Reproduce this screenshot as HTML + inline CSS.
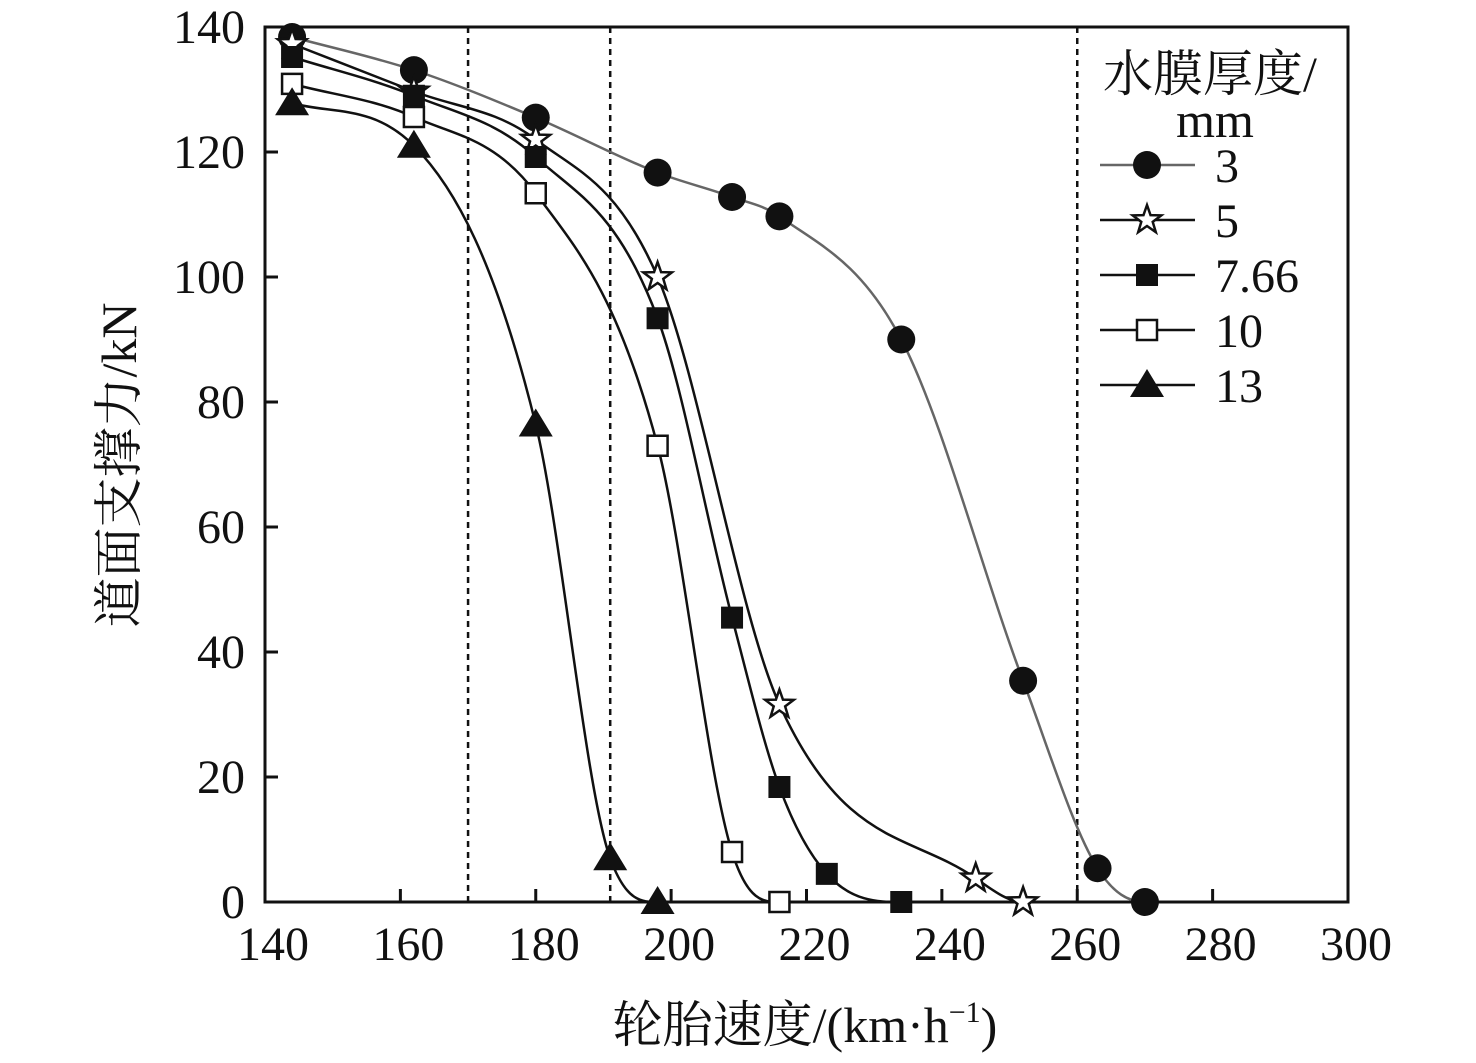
<!DOCTYPE html>
<html><head><meta charset="utf-8"><style>
body{margin:0;background:#fff;width:1476px;height:1058px;overflow:hidden}
svg text{font-family:"Liberation Serif","Noto Serif CJK SC",serif;fill:#111}
</style></head><body>
<svg id="c" width="1476" height="1058" viewBox="0 0 1476 1058"></svg>
<script>
const xs3=[144,162,180,198,209,216,234,252,263,270];
const ys3=[138.4,133.1,125.5,116.7,112.8,109.7,90,35.4,5.4,0];
const xs5=[144,162,180,198,216,245,252];
const ys5=[137.3,129.7,122,100,31.6,3.8,0];
const xs766=[144,162,180,198,209,216,223,234];
const ys766=[135.2,129,119.2,93.4,45.5,18.4,4.5,0];
const xs10=[144,162,180,198,209,216];
const ys10=[130.9,125.6,113.4,73,8,0];
const xs13=[144,162,180,191,198];
const ys13=[127.8,121,76.4,7,0];
const xTicks=[140,160,180,200,220,240,260,280,300];
const yTicks=[0,20,40,60,80,100,120,140];
const dashX=[170,191,260];
const labels=["3","5","7.66","10","13"];
const NS="http://www.w3.org/2000/svg";
const svg=document.getElementById('c');
const L=265,R=1348,T=27,B=902;
const X=v=>L+(v-140)/160*(R-L);
const Y=v=>B-v/140*(B-T);
function el(t,a,p){const e=document.createElementNS(NS,t);for(const k in a)e.setAttribute(k,a[k]);(p||svg).appendChild(e);return e;}
dashX.forEach(d=>{const e=el('line',{x1:X(d),x2:X(d),y1:T,y2:B,stroke:'#111','stroke-width':2.5,'stroke-dasharray':'6,5'});

});
const ax=el('rect',{x:L,y:T,width:R-L,height:B-T,fill:'none',stroke:'#111','stroke-width':3});


xTicks.forEach(t=>{el('line',{x1:X(t),x2:X(t),y1:B,y2:B-13,stroke:'#111','stroke-width':3});
const tx=el('text',{x:X(t)+8,y:B+58,'font-size':48,'text-anchor':'middle'});tx.textContent=t;

});
yTicks.forEach(t=>{el('line',{x1:L,x2:L+13,y1:Y(t),y2:Y(t),stroke:'#111','stroke-width':3});
const tx=el('text',{x:L-20,y:Y(t)+16,'font-size':48,'text-anchor':'end'});tx.textContent=t;

});
const xt=el('text',{x:805,y:1042,'font-size':50,'text-anchor':'middle'});
xt.innerHTML='轮胎速度/(km·h<tspan font-size="30" dy="-20">−1</tspan><tspan dy="20">)</tspan>';


const yt=el('text',{x:0,y:0,'font-size':50,'text-anchor':'middle',transform:'translate(136,465) rotate(-90)'});
yt.textContent='道面支撑力/kN';


function mono(xa,ya){const n=xa.length,d=[],m=new Array(n);
for(let i=0;i<n-1;i++)d.push((ya[i+1]-ya[i])/(xa[i+1]-xa[i]));
m[0]=d[0];m[n-1]=0;
for(let i=1;i<n-1;i++){m[i]=d[i-1]*d[i]<=0?0:(d[i-1]+d[i])/2;}
for(let i=0;i<n-1;i++){if(d[i]===0){m[i]=m[i+1]=0;continue;}const a=m[i]/d[i],b=m[i+1]/d[i],s=a*a+b*b;if(s>9){const t=3/Math.sqrt(s);m[i]=t*a*d[i];m[i+1]=t*b*d[i];}}
let p='M'+X(xa[0])+','+Y(ya[0]);
for(let i=0;i<n-1;i++){const h=xa[i+1]-xa[i];p+=' C'+X(xa[i]+h/3)+','+Y(ya[i]+m[i]*h/3)+' '+X(xa[i+1]-h/3)+','+Y(ya[i+1]-m[i+1]*h/3)+' '+X(xa[i+1])+','+Y(ya[i+1]);}
return p;}
function marker(k,cx,cy,g){
if(k===0)return el('circle',{cx,cy,r:14,fill:'#111'},g);
if(k===1){let p='';for(let i=0;i<10;i++){const r=i%2?6:15,a=-Math.PI/2+i*Math.PI/5;p+=(i?'L':'M')+(cx+r*Math.cos(a))+','+(cy+r*Math.sin(a));}return el('path',{d:p+'Z',fill:'#fff',stroke:'#111','stroke-width':2.5},g);}
if(k===2)return el('rect',{x:cx-11,y:cy-11,width:22,height:22,fill:'#111'},g);
if(k===3)return el('rect',{x:cx-10,y:cy-10,width:20,height:20,fill:'#fff',stroke:'#111','stroke-width':2.5},g);
return el('path',{d:`M${cx},${cy-16}L${cx+17},${cy+12}L${cx-17},${cy+12}Z`,fill:'#111'},g);}
const series=[[xs3,ys3],[xs5,ys5],[xs766,ys766],[xs10,ys10],[xs13,ys13]];
const clip=el('clipPath',{id:'cp'});el('rect',{x:L,y:T-20,width:R-L,height:B-T+20},clip);
series.forEach((s,k)=>{const g=el('g',{});


el('path',{d:mono(s[0],s[1]),fill:'none',stroke:k===0?'#666':'#111','stroke-width':2.5,'clip-path':'url(#cp)'},g);
s[0].forEach((x,i)=>marker(k,X(x),Y(s[1][i]),g));});
const lg=el('g',{});


const l1=el('text',{x:1210,y:91,'font-size':50,'text-anchor':'middle'},lg);l1.textContent='水膜厚度/';
const l2=el('text',{x:1215,y:137,'font-size':50,'text-anchor':'middle'},lg);l2.textContent='mm';
labels.forEach((lab,k)=>{const y=165+k*55;const g=el('g',{},lg);


el('line',{x1:1100,x2:1195,y1:y,y2:y,stroke:k===0?'#666':'#111','stroke-width':2.5},g);
marker(k,1147,y,g);
const t=el('text',{x:1215,y:y+17,'font-size':48},g);t.textContent=lab;});
</script>
</body></html>
